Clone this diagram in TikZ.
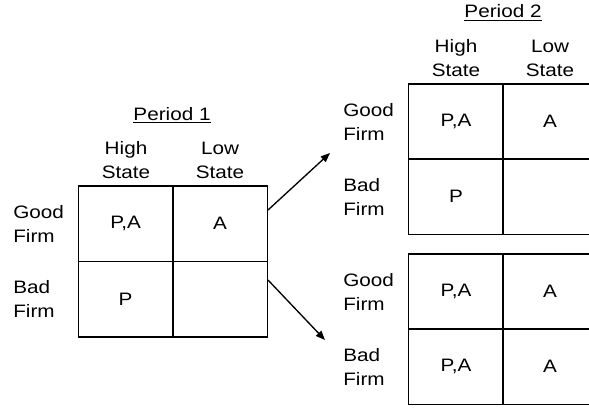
\documentclass[tikz,border=0pt]{standalone}
\usepackage{fontspec}
\setmainfont{Liberation Sans}[FakeStretch=1.15]
\usetikzlibrary{arrows.meta}

\begin{document}
\begin{tikzpicture}[x=0.75pt, y=0.75pt,
        cell/.style={rectangle, draw=black, line width=1pt, inner sep=0pt, minimum width=70.9pt, minimum height=56.5pt, font=\fontsize{13.5}{18}\selectfont},
        colhead/.style={align=center, inner sep=0pt, font=\fontsize{13.5}{18}\selectfont},
        rowlab/.style={align=left, inner sep=0pt, anchor=west, font=\fontsize{13.5}{18}\selectfont},
        period/.style={inner sep=0pt, anchor=base, font=\fontsize{13.5}{18}\selectfont},
        move/.style={line width=1pt, -{Triangle[length=7pt, width=5.5pt]}}
    ]
        \clip (0,0) rectangle (589,408);

        % period 1
        \node[period] (per1) at (172,288) {\underline{Period 1}};
        \node[colhead] (p1high) at (126,248) {High\\State};
        \node[colhead] (p1low) at (220,248) {Low\\State};
        \node[rowlab] (p1good) at (13,184.25) {Good\\Firm};
        \node[rowlab] (p1bad) at (13,108.75) {Bad\\Firm};
        \node[cell] (p1GH) at (125.6,184.25) {P,A};
        \node[cell] (p1GL) at (220.1,184.25) {A};
        \node[cell] (p1BH) at (125.6,108.75) {P};
        \node[cell] (p1BL) at (220.1,108.75) {};

        % period 2
        \node[period] (per2) at (503,390) {\underline{Period 2}};
        \node[colhead] (p2high) at (456,349.5) {High\\State};
        \node[colhead] (p2low) at (550,349.5) {Low\\State};

        \node[rowlab] (upgood) at (343,286.5) {Good\\Firm};
        \node[rowlab] (upbad) at (343,211.5) {Bad\\Firm};
        \node[cell] (upGH) at (456,286.5) {P,A};
        \node[cell] (upGL) at (550,286.5) {A};
        \node[cell] (upBH) at (456,211.5) {P};
        \node[cell] (upBL) at (550,211.5) {};

        \node[rowlab] (downgood) at (343,116.5) {Good\\Firm};
        \node[rowlab] (downbad) at (343,41.5) {Bad\\Firm};
        \node[cell] (downGH) at (456,116.5) {P,A};
        \node[cell] (downGL) at (550,116.5) {A};
        \node[cell] (downBH) at (456,41.5) {P,A};
        \node[cell] (downBL) at (550,41.5) {A};

        \coordinate (upTip) at (330,255);
        \coordinate (downTip) at (325,68);
        \draw[move] ([yshift=10.3pt]p1GL.east) -- (upTip);
        \draw[move] ([yshift=14.4pt]p1BL.east) -- (downTip);
    \end{tikzpicture}
\end{document}
